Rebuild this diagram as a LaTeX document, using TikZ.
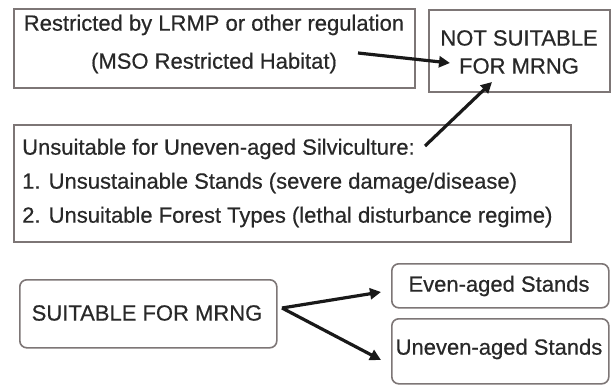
\documentclass[tikz,border=0pt]{standalone}
\usepackage{fontspec}
\setmainfont{Liberation Sans}
\newfontfamily\heavyfont[FakeBold=0.5]{Liberation Sans}
\usetikzlibrary{arrows.meta}
\definecolor{boxgray}{RGB}{125,118,118}
\definecolor{txt}{RGB}{40,40,40}
\tikzset{
  plainbox/.style={draw=boxgray, line width=1.6pt, inner sep=0pt, anchor=north west},
  roundbox/.style={plainbox, rounded corners=7pt},
  lbl/.style={inner sep=0pt, text=txt, font=\heavyfont\fontsize{22}{26}\selectfont},
  arr/.style={line width=3.2pt, draw=black!90, -{Triangle[length=11pt,width=11pt]}}
}
\begin{document}
\begin{tikzpicture}[x=1pt,y=-1pt]
\useasboundingbox[fill=white] (0,0) rectangle (613,385);
% boxes
\node[plainbox, minimum width=401pt, minimum height=79pt] (b1) at (13,8) {};
\node[plainbox, minimum width=181pt, minimum height=82pt] (b2) at (428,9) {};
\node[plainbox, minimum width=557pt, minimum height=117pt] (b3) at (13,124) {};
\node[roundbox, minimum width=257pt, minimum height=68pt] (b4) at (19,279) {};
\node[roundbox, minimum width=217pt, minimum height=44pt] (b5) at (391,263) {};
\node[roundbox, minimum width=217pt, minimum height=65pt] (b6) at (391,318) {};
% texts
\node[lbl] (t1a) at (214,25) {Restricted by LRMP or other regulation};
\node[lbl] (t1b) at (214,63) {(MSO Restricted Habitat)};
\node[lbl] (t2a) at (519,38) {NOT SUITABLE};
\node[lbl] (t2b) at (519,66) {FOR MRNG};
\node[lbl, anchor=west] (t3a) at (22,149) {Unsuitable for Uneven-aged Silviculture:};
\node[lbl, anchor=west] (t3b) at (22,183) {1. Unsustainable Stands (severe damage/disease)};
\node[lbl, anchor=west] (t3c) at (22,217) {2. Unsuitable Forest Types (lethal disturbance regime)};
\node[lbl] (t4) at (147,313) {SUITABLE FOR MRNG};
\node[lbl] (t5) at (499,286) {Even-aged Stands};
\node[lbl] (t6) at (499,349) {Uneven-aged Stands};
% connector points
\coordinate (a1s) at (358,53);
\coordinate (a1e) at (450,63);
\coordinate (a2s) at (425,146);
\coordinate (a2e) at (492,82);
\coordinate (a3s) at (282,308);
\coordinate (a3e) at (381,292);
\coordinate (a4e) at (381,360);
\draw[arr] (a1s) -- (a1e);
\draw[arr] (a2s) -- (a2e);
\draw[arr] (a3s) -- (a3e);
\draw[arr] (a3s) -- (a4e);
\end{tikzpicture}
\end{document}
